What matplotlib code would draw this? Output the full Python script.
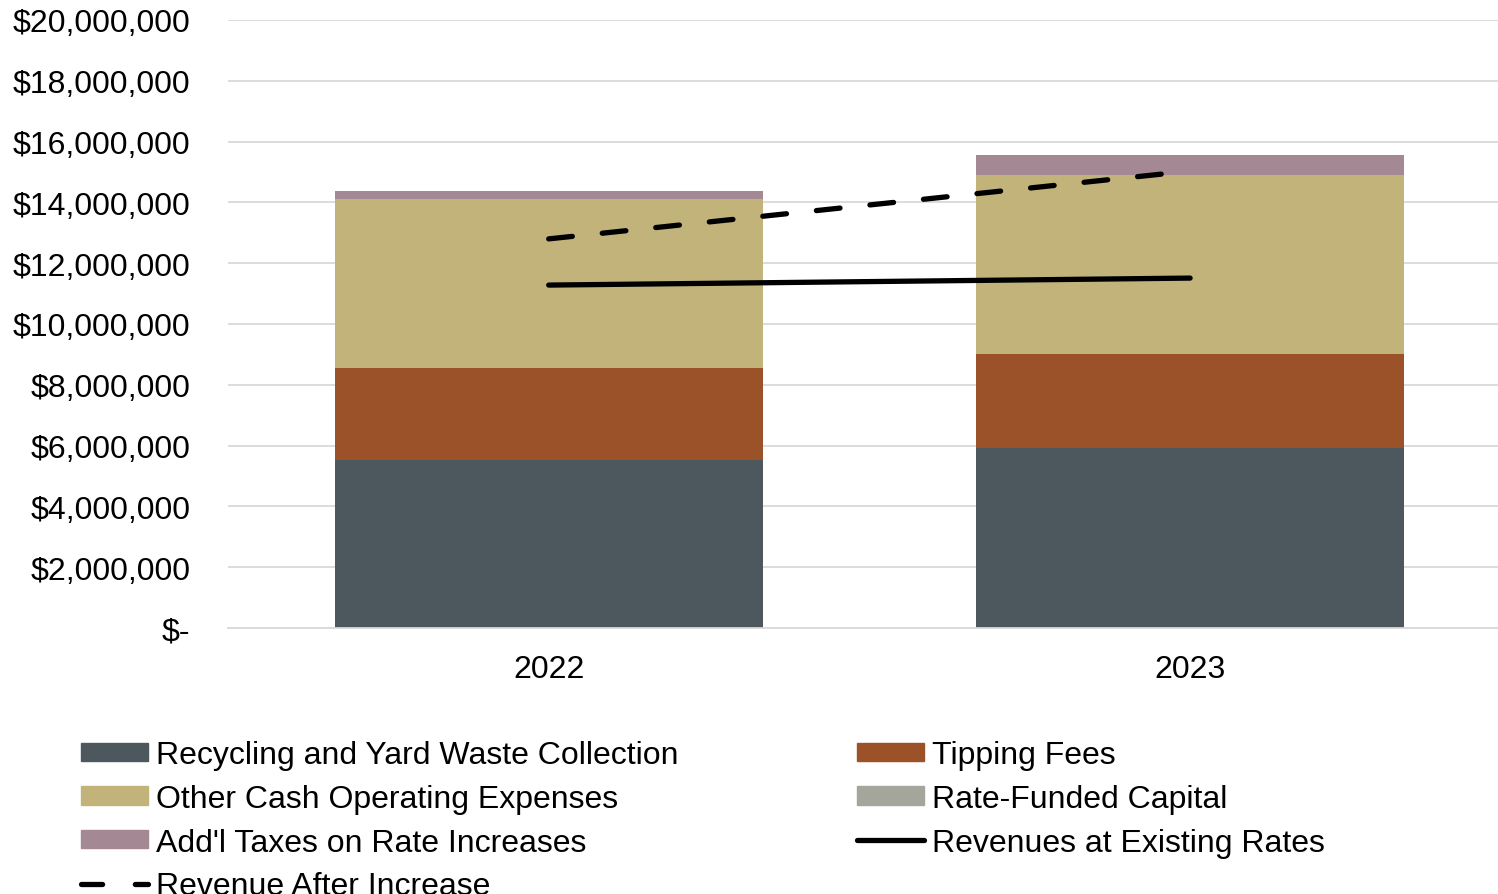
import matplotlib
matplotlib.use("Agg")
import matplotlib.pyplot as plt
from matplotlib.ticker import FuncFormatter
from matplotlib.patches import Patch
from matplotlib.lines import Line2D
import numpy as np

plt.rcParams['font.family'] = ['Liberation Sans', 'DejaVu Sans']

years = ["2022", "2023"]
recycling = [5.53e6, 5.92e6]
tipping = [3.02e6, 3.09e6]
other_opex = [5.56e6, 5.89e6]
rate_capital = [0.0, 0.0]
taxes = [0.28e6, 0.66e6]
rev_existing = [11.28e6, 11.51e6]
rev_after = [12.80e6, 15.03e6]

colors = {
    "Recycling and Yard Waste Collection": "#4d575e",
    "Tipping Fees": "#9c5228",
    "Other Cash Operating Expenses": "#c2b37b",
    "Rate-Funded Capital": "#a5a69b",
    "Add'l Taxes on Rate Increases": "#a48893",
}
stacks = [recycling, tipping, other_opex, rate_capital, taxes]

fig = plt.figure(figsize=(14.98, 8.95), dpi=100)
ax = fig.add_axes([228 / 1498, 1 - 629 / 895, 1270 / 1498, 608 / 895])

x = np.arange(len(years))
bottom = np.zeros(len(years))
for (name, col), vals in zip(colors.items(), stacks):
    ax.bar(x, vals, width=0.667, bottom=bottom, color=col, zorder=2)
    bottom += np.array(vals)

ax.plot(x, rev_existing, color="black", lw=3.8, solid_capstyle="round", zorder=3)
ax.plot(x, rev_after, color="black", lw=3.8, dashes=(4.5, 5.7), dash_capstyle="round", zorder=3)

ax.set_xlim(-0.5, 1.48)
ax.set_ylim(0, 20e6)
ax.set_yticks(np.arange(0, 20e6 + 1, 2e6))
ax.yaxis.set_major_formatter(FuncFormatter(lambda v, p: "$-" if v == 0 else f"${v:,.0f}"))
ax.set_xticks(x)
ax.set_xticklabels(years)
ax.grid(axis="y", color="#d9d9d9", lw=1.3, zorder=0)
for s in ["top", "right", "left"]:
    ax.spines[s].set_visible(False)
ax.spines["bottom"].set_color("#d9d9d9")
ax.spines["bottom"].set_linewidth(1.3)
ax.tick_params(axis="both", length=0, labelsize=23)
ax.tick_params(axis="y", pad=27)
ax.tick_params(axis="x", pad=18.5)

names = list(colors.keys())
h = {n: Patch(color=colors[n]) for n in names}
h_exist = Line2D([], [], color="black", lw=3.8, solid_capstyle="round")
h_after = Line2D([], [], color="black", lw=3.8, dashes=(4.0, 6.2), dash_capstyle="round")
handles = [h[names[0]], h[names[2]], h[names[4]], h_after,
           h[names[1]], h[names[3]], h_exist]
labels = [names[0], names[2], names[4], "Revenue After Increase",
          names[1], names[3], "Revenues at Existing Rates"]
fig.legend(handles, labels, ncol=2, loc="upper left", bbox_to_anchor=(0.054, 0.172),
           frameon=False, fontsize=23, handlelength=2.1, handleheight=0.5,
           handletextpad=0.25, columnspacing=5.6, labelspacing=0.43, borderaxespad=0,
           borderpad=0)

fig.savefig("out.png", dpi=100)
